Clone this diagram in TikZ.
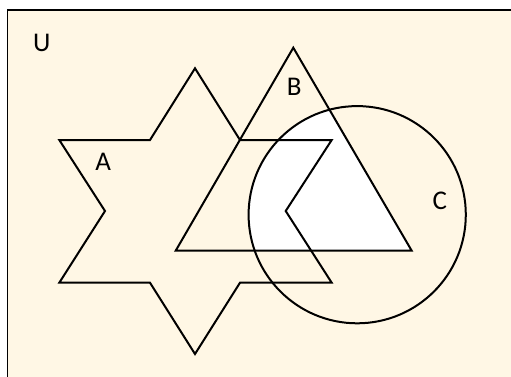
\documentclass[tikz,border=0pt]{standalone}
\usepackage{fontspec}
\setmainfont{Carlito}
\definecolor{bgc}{RGB}{255,247,229}
\begin{document}
\begin{tikzpicture}[x=1pt,y=-1pt,
  outline/.style={draw=black,line width=2pt,line join=miter},
  lbl/.style={font=\fontsize{27}{30}\selectfont,inner sep=0pt,anchor=center}]
\useasboundingbox (0,0) rectangle (511,376);
\fill[white] (0,0) rectangle (511,376);
\begin{scope}
\clip (0,0) rectangle (511,376);
\draw[fill=bgc,line width=1.2pt] (7.5,10) rectangle (530,400);
\end{scope}
% star A
\path (195,68.3) coordinate (a1) (240,140) coordinate (a2) (331.7,140) coordinate (a3)
  (285.7,211) coordinate (a4) (331.7,282.7) coordinate (a5) (240,282.7) coordinate (a6)
  (195,354) coordinate (a7) (150,282.7) coordinate (a8) (59.3,282.7) coordinate (a9)
  (105,211) coordinate (a10) (59.3,140) coordinate (a11) (150,140) coordinate (a12);
% triangle B
\path (293.3,47.7) coordinate (b1) (175.7,250.7) coordinate (b2) (411.7,250.7) coordinate (b3);
% circle C
\coordinate (c0) at (357.2,214.7);
% white region: B and C
\begin{scope}
\clip (b1) -- (b2) -- (b3) -- cycle;
\fill[white] (c0) circle[radius=108.6];
\end{scope}
\draw[outline] (a1)--(a2)--(a3)--(a4)--(a5)--(a6)--(a7)--(a8)--(a9)--(a10)--(a11)--(a12)--cycle;
\draw[outline] (b1)--(b2)--(b3)--cycle;
\draw[outline] (c0) circle[radius=108.6];
\node[lbl] (U) at (41.7,43) {U};
\node[lbl] (A) at (103.3,161.7) {A};
\node[lbl] (B) at (294.3,87.3) {B};
\node[lbl] (C) at (439.7,200.5) {C};
\end{tikzpicture}
\end{document}
